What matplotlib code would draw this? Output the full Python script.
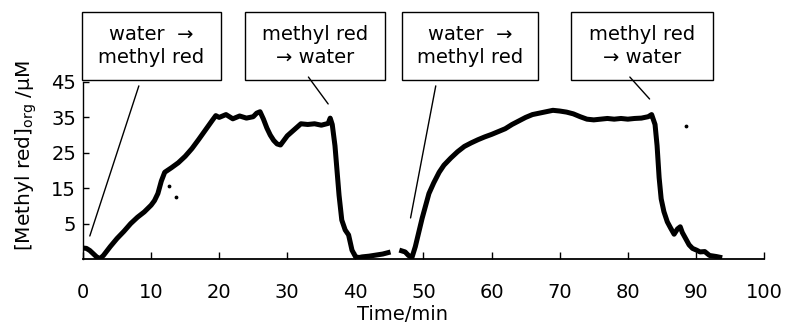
import matplotlib
matplotlib.use("Agg")
import matplotlib.pyplot as plt
from matplotlib.patches import Rectangle

plt.rcParams['font.family'] = ['DejaVu Sans']
plt.rcParams['mathtext.default'] = 'regular'

# run 1: water -> methyl red -> water
t_run1 = [0, 0.5, 1.0, 1.5, 2.0, 2.5, 3.0, 4.0, 5.0, 6.0, 7.0, 8.0, 9.0, 10.0,
          10.5, 11.0, 11.5, 12.0, 13.0, 14.0, 15.0, 16.0, 17.0, 18.0, 19.0,
          19.5, 20.0, 21.0, 22.0, 23.0, 24.0, 25.0, 25.5, 26.0, 26.5, 27.0,
          27.5, 28.0, 28.5, 29.0, 29.5, 30.0, 31.0, 32.0, 33.0, 34.0, 35.0,
          36.0, 36.3, 36.6, 37.0, 37.3, 37.6, 38.0, 38.5, 39.0, 39.5, 40.0,
          40.5, 41.0, 42.0, 43.0, 44.0, 44.8]
c_run1 = [-1.9, -2.0, -2.6, -3.5, -4.4, -4.9, -4.0, -1.5, 0.8, 2.8, 5.0, 6.8,
          8.3, 10.2, 11.5, 13.5, 17.0, 19.5, 20.8, 22.2, 24.0, 26.2, 28.8,
          31.5, 34.2, 35.5, 35.0, 35.8, 34.6, 35.4, 34.8, 35.2, 36.2, 36.6,
          34.5, 32.0, 30.0, 28.5, 27.5, 27.2, 28.5, 29.8, 31.5, 33.2, 33.0,
          33.2, 32.8, 33.3, 34.8, 33.0, 27.0, 20.0, 13.0, 6.0, 3.2, 1.8,
          -2.5, -4.3, -4.6, -4.4, -4.2, -3.9, -3.6, -3.2]

# run 2
t_run2 = [46.8, 47.3, 47.8, 48.3, 48.8, 49.3, 49.8, 50.3, 50.8, 51.5, 52.3,
          53.0, 54.0, 55.0, 56.0, 57.0, 58.0, 59.0, 60.0, 61.0, 62.0, 63.0,
          64.0, 65.0, 66.0, 67.0, 68.0, 69.0, 70.0, 71.0, 72.0, 73.0, 74.0,
          75.0, 76.0, 77.0, 78.0, 79.0, 80.0, 81.0, 82.0, 83.0, 83.5, 84.0,
          84.3, 84.6, 84.9, 85.3, 85.8, 86.3, 86.8, 87.3, 87.7, 88.0, 88.6,
          89.0, 89.5, 90.1, 90.6, 91.3, 92.0, 93.0, 93.5]
c_run2 = [-2.7, -3.0, -4.0, -4.6, -1.5, 2.5, 6.5, 10.0, 13.5, 16.5, 19.5,
          21.5, 23.5, 25.3, 26.8, 27.8, 28.7, 29.5, 30.2, 31.0, 31.8, 33.0,
          34.0, 35.0, 35.8, 36.2, 36.6, 37.0, 36.8, 36.5, 36.0, 35.2, 34.5,
          34.3, 34.5, 34.7, 34.5, 34.7, 34.5, 34.7, 34.8, 35.2, 35.8, 33.0,
          27.0, 18.0, 12.0, 8.4, 5.5, 3.7, 2.0, 3.5, 4.1, 2.5, 0.4, -1.0,
          -2.0, -2.5, -3.0, -2.9, -4.0, -4.3, -4.5]

# stray points
t_stray = [12.6, 13.6, 88.5]
c_stray = [15.6, 12.5, 32.6]

box_texts = ["water  \u2192\nmethyl red", "methyl red\n\u2192 water",
             "water  \u2192\nmethyl red", "methyl red\n\u2192 water"]
# pointer lines: (start of line under box, point on the curve)
pointer_from = [(8.2, 43.9), (33.1, 46.4), (51.8, 43.9), (80.3, 46.4)]
pointer_to = [(1.0, 1.5), (36.0, 38.8), (48.1, 6.6), (83.2, 40.2)]

fig = plt.figure(figsize=(7.88, 3.27), dpi=100)
ax = fig.add_axes([83 / 788, 1 - 259 / 327, 681 / 788, 177 / 327])

ax.plot(t_run1, c_run1, color='black', lw=3.6, solid_joinstyle='round')
ax.plot(t_run2, c_run2, color='black', lw=3.6, solid_joinstyle='round')
ax.scatter(t_stray, c_stray, s=3, color='black')

ax.set_xlim(0, 100)
ax.set_ylim(-5, 45)
ax.set_xticks(range(0, 101, 10))
ax.set_yticks([5, 15, 25, 35, 45])
ax.spines['top'].set_visible(False)
ax.spines['right'].set_visible(False)
ax.spines['left'].set_linewidth(1.0)
ax.spines['bottom'].set_linewidth(1.3)
ax.tick_params(axis='x', direction='in', length=5, width=1.0, pad=17,
               labelsize=14)
ax.tick_params(axis='y', direction='in', length=4, width=1.0, pad=5,
               labelsize=14)

for (x0, y0), (x1, y1) in zip(pointer_from, pointer_to):
    ax.annotate('', xy=(x1, y1), xytext=(x0, y0), annotation_clip=False,
                arrowprops=dict(arrowstyle='-', color='black', lw=1.0,
                                shrinkA=0, shrinkB=0))

# label boxes above the plot (pixel positions of the reference)
box_left = [82, 245, 402, 571]
box_width = [139, 140, 136, 142]
for left, w, txt in zip(box_left, box_width, box_texts):
    fig.patches.append(Rectangle((left / 788, 1 - 80 / 327), w / 788, 68 / 327,
                                 transform=fig.transFigure, fill=False,
                                 edgecolor='black', lw=1.0))
    fig.text((left + w / 2) / 788, 1 - 46 / 327, txt, ha='center',
             va='center', fontsize=14, linespacing=1.25)

fig.text(0.033, 1 - 156 / 327, '[Methyl red]$_{org}$ /\u03bcM', rotation=90,
         ha='center', va='center', fontsize=14.5)
fig.text(403 / 788, 1 - 314 / 327, 'Time/min', ha='center', va='center',
         fontsize=14)

fig.savefig('out.png', dpi=100)
